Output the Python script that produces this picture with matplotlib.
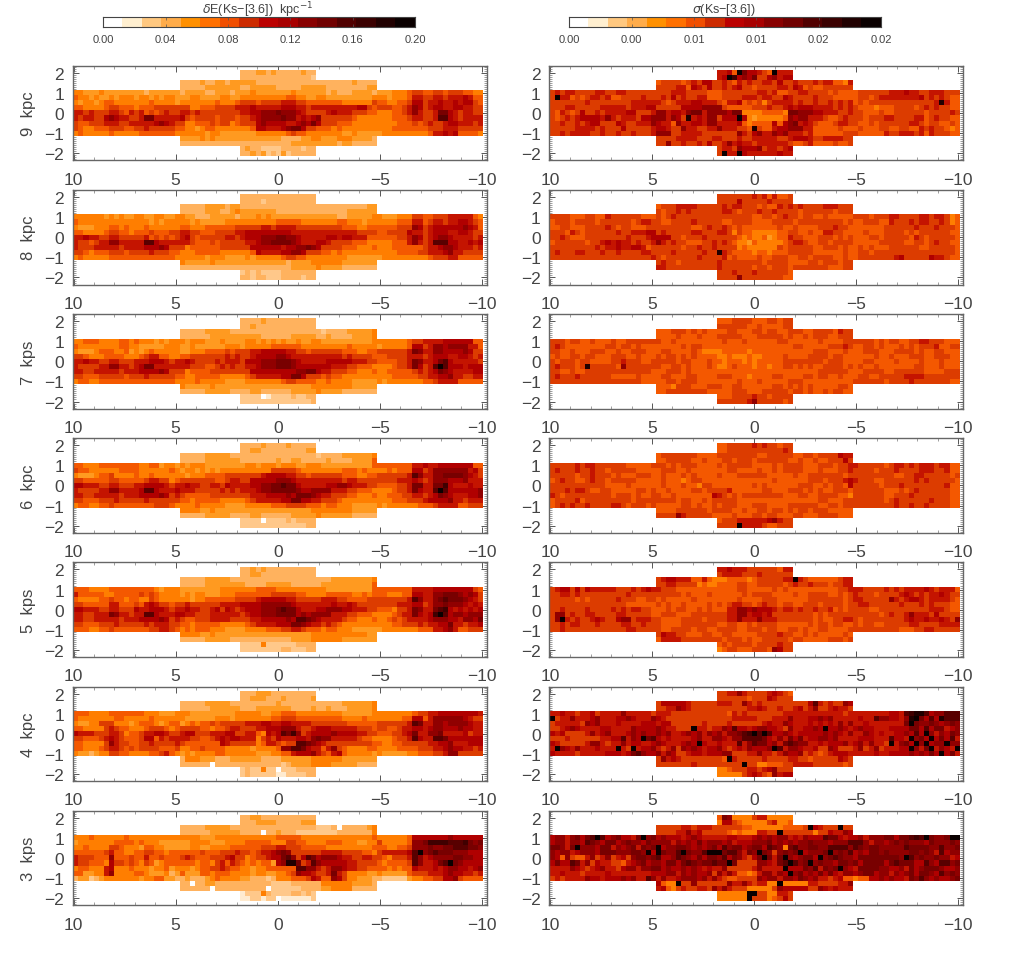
import numpy as np
import matplotlib
matplotlib.use("Agg")
import matplotlib.pyplot as plt
from matplotlib.colors import ListedColormap
from matplotlib.ticker import MultipleLocator, FixedLocator

W, H = 1035, 954
plt.rcParams['font.family'] = ['Liberation Sans', 'DejaVu Sans']
INK = '#444444'

bar_colours = ['#FFFFFF', '#FFEFD0', '#FFC880', '#FFAC4A', '#FF9000', '#FF7000', '#F04E00', '#CC2A00',
               '#BB0000', '#A80000', '#880000', '#700000', '#500000', '#3A0000', '#200000', '#0A0000']
map_colours = ['#FFFFFF', '#FFEBD0', '#FFC88A', '#FFB25E', '#FF9A20', '#FF7E00', '#F45800', '#DC3C00',
               '#C41400', '#B00000', '#900000', '#780000', '#580000', '#400000', '#200000', '#0A0000']
distance_labels = ['9  kpc', '8  kpc', '7  kps', '6  kpc', '5  kps', '4  kpc', '3  kps']
x_ticks = [10, 5, 0, -5, -10]
y_ticks = [-2, -1, 0, 1, 2]
left_cbar_ticks = ['0.00', '0.04', '0.08', '0.12', '0.16', '0.20']
right_cbar_ticks = ['0.00', '0.00', '0.01', '0.01', '0.02', '0.02']
left_range = 0.20
right_range = 0.02

# Each character is a colour level (0-f); rows run from b=+2 to b=-2.
red_9 = [
 "3334434333 33433", "3333333333 33332",
 "3333433443 4444433333 3333333333 333343333", "3333344444 4433444443 3333444443 333333344",
 "5544454444 4444344444 4344443344 4344454444 4445444444 3433344443 4445556776 6776777665 5",
 "6554544545 5545545455 4445544445 5445555555 5566554455 4444444445 5545556887 7887888986 6",
 "5455456655 5555565555 4555555565 5567776777 7888776666 6665555557 6655667997 8898898997 6",
 "6655556776 6656667777 7775566677 7788898888 8999887888 8888889976 7776678a97 8998899887 7",
 "8878777887 6878676787 7887877777 7778899aaa baaa987777 8988877766 5556678a87 78bb987887 7",
 "8788779a98 8778bb8888 8976777767 7767789aaa abaa8989a7 7777765555 5556667887 78cc987888 8",
 "7667778887 7888889a98 7755666767 7567779a99 99889a9b97 7766655555 5555666767 8778998887 8",
 "7655666777 6677877777 6655456655 5555569988 89abb97766 6565555555 5556666666 7778887777 7",
 "5655555655 5556666666 5555554554 4444445555 5567665555 5554454444 4555555555 6889896666 5",
 "4444545444 4444444444 3333445544 455544443", "3333333333 3333333333 3344444444 434433333",
 "3433222233 3323333", "3343423242 3333336",
]
red_8 = [
 "3333333333 33333", "3333233333 33333",
 "3333344443 4433333333 3333333333 333333344", "3333344433 4544444443 3333333333 333444444",
 "5555554545 4455445544 5544333444 4434445454 4444444444 4433444445 5444555776 6777888886 5",
 "6555555555 5555545455 5554544444 5555555555 6666655555 5566555455 5555666886 7887889987 6",
 "5444555665 6555655555 5665556666 6677777887 8888777777 7776665566 6666777a97 8999999a98 6",
 "6655556776 6566676667 7887766677 7788999999 9998888888 8888887777 6677779887 8999889987 7",
 "8898877887 7777867676 7897677777 8878999aaa bbaa988888 9989988866 6666778a97 89aa988887 8",
 "8776788aa8 8888cc9888 8887666767 7777889aab bbba988899 8777766655 5556668a87 8ccc998898 9",
 "8777888887 8888999a97 7756666667 7777799999 9899aaba97 7776665556 5556666667 889aa98887 8",
 "7765666777 6777787776 6555666665 5555569888 899aa97776 6565555555 5555666677 8889a88777 7",
 "5655555666 6666666666 5555554555 4444545555 5677665555 5555444444 4555555555 6777886666 6",
 "5444445444 4444444444 4344445555 554444444", "3333333333 3333333333 3344444544 443333333",
 "2323222233 3333333", "3323322233 3323335",
]
red_7 = [
 "3333433333 33333", "3343333333 33333",
 "3333344444 3333333333 3333333323 333444445", "3333334444 4444443333 3344444334 333344445",
 "5566655556 6565554545 5545554445 4444554545 4544544554 4444444445 5555556778 8889999996 6",
 "6555555556 6554444455 5445444444 5554555556 6666655555 5555655555 4555556997 8aa9aaaa88 6",
 "5444566655 6454565555 5445556666 7677788999 9988776777 7776665566 7777778ba8 8aa9999a97 7",
 "7765556666 5556788665 5667777777 8787789999 aa98888888 8887877776 6677778887 8999889987 8",
 "8898877887 7788899987 8898777787 8887999aaa bbba988888 9999988877 6666778ba8 89bc988888 7",
 "8777788aa8 8789bb8888 8887776678 7877889aaa bbba999999 9888776665 5556778b97 8cfc999899 9",
 "8877888887 8889999a97 7756666777 7777799999 9999aabb98 8777665556 5566666787 89ba988889 9",
 "7766677777 6777877777 6655666665 5555678888 899bb97776 7665555555 5556666677 8899a88778 8",
 "5665566666 6666666666 5555655555 4444555555 5677666655 6555544444 5455555556 6788886666 6",
 "5444445444 4444444444 4444445555 555544444", "3333344444 3333443333 3344444544 443333333",
 "2222012222 3223333", "2222222222 2222335",
]
red_6 = [
 "3333433334 33333", "3344333333 33344",
 "3333344444 3333333333 3333333233 334444445", "3333344444 4433333334 3344333334 333344446",
 "6655566666 6665566455 4545554444 4444554555 4555445554 4444444446 6666666889 8899999996 6",
 "7665555556 6665555556 5455454545 5555555557 7777655555 5556665655 5565666997 8aaaaaaa89 7",
 "5444566755 5565565555 5545556666 7777777899 9988776777 7776665566 7777778ca8 8aabbbba98 7",
 "7766666776 6666788775 6777777766 7887799999 aaa9888888 8887887777 7777888987 8aaa999a88 8",
 "9988877887 7788999987 8898877887 9888899aab bcbb988888 99aa988877 6666778bb8 8bbd988898 8",
 "8777788aa8 8889cc9888 9888777778 7878889aab bbbba99aaa a888776665 5556778b98 8cfc999999 a",
 "8877888887 8889999a97 8766666777 7777788899 99a9bbba98 8777665556 5566677887 89ba988899 a",
 "7766677787 7777877777 7665666665 5555678888 899bb99887 7765555555 5556667778 9999a88788 8",
 "5665566766 6666667776 5555655555 4444555556 6677776665 6655544444 5455555566 6788886677 7",
 "5555445444 4444444444 4444445555 555544444", "3333344444 3333443333 3344444544 444433333",
 "2222022223 2333333", "2222222222 2223336",
]
red_5 = [
 "3343433333 33333", "3344333333 33333",
 "3333344444 3333333333 3333333333 444444445", "3333344444 4443333444 4433333344 444444446",
 "6665555666 6666665455 5444444445 5555556666 5555555555 4444444446 6666666888 8999999997 6",
 "8666665566 6667676555 5454554445 5566666667 7777665555 6666655656 6655566998 8aabbba9a9 7",
 "6555566766 5665576555 5554556666 6677778999 9988777778 8877666677 7777778ca8 8abcbbba98 7",
 "7766666886 6676898776 7787777778 8889999aaa aaa9888888 8988987777 7777888997 8aabaaa989 8",
 "9988877887 7798899987 8898877897 9878999aaa bcbb988899 aaa9988877 6665778ba8 8bcd989898 9",
 "8877888ba8 8788cc9888 9988777888 8887899aaa bbbb9a9aaa a888776665 5556788b98 9dfc9aa9aa a",
 "8877888887 8889999a97 8766777888 8777788999 99a9ccba98 8887665556 5567678888 9aaa998aa9 b",
 "7766677787 7777878887 7665666665 5555678888 999bba9887 8765555555 5556677787 8899b88788 9",
 "6665566766 6666677887 6565666555 4444555566 6778876665 6655544444 4555555566 6889a86677 7",
 "5555445444 4444444444 4444445555 555555544", "3333344444 3333333333 3344445555 554444444",
 "2222522222 2333333", "2222222233 2223336",
]
red_4 = [
 "3334443333 33333", "3344433343 33334",
 "3333344444 3333333334 3333333333 334444445", "3333334444 4433344444 4433334334 333444445",
 "6665555666 6666555444 5554444444 4455555445 5666555555 5554444445 5555555677 8899999999 8",
 "6555555566 5555565555 5544444455 5455555556 6777666666 6665555655 5555566996 8aaaaaa987 7",
 "5445577755 5456665456 6456566767 7777888998 8998888777 7777666666 7777778cb8 8aa9aaaa98 8",
 "6655557876 6555677765 6777766566 7887778899 9aaa877899 9888887776 7766788998 9aa999a998 8",
 "9888777887 5667889987 7899777888 9977886598 9cbda78999 9a99998877 6667789b88 aab8888978 8",
 "7766678987 6667996878 8887766789 8998885787 9888998aba a888887665 5556778c98 8ccb999999 9",
 "6655557a87 7667787777 8766666669 8777775688 7677ccba98 7777777776 6556677777 8899a88899 9",
 "6655567887 6767777666 7556676666 5555545555 6aaccb9886 8a76555566 5555666677 7889a99887 8",
 "5443455776 6555566786 5454555566 5555554445 5668999a87 6896555554 5444445566 6778aa7777 7",
 "3555444333 4444443333 4444445555 554444444", "3333330333 3333333333 2344445555 444443333",
 "2322522022 2333333", "2322222112 2223336",
]
red_3 = [
 "3344333333 33333", "3334444333 33444",
 "3333344444 3333333333 3333333222 303333345", "3333334444 4433330334 3332222222 233333335",
 "5556555555 6555555555 5555544455 5555555555 6666655555 5555555556 5555556999 9999a99999 9",
 "4555555566 6656555444 4445555444 5555666665 5577665555 6665554455 7555556aab ddddcccdba b",
 "5565555776 5554665544 4445544555 5666666777 8877766666 5555555556 6655667aaa baabbcccbb a",
 "6666667866 5566776656 6666676667 7787767889 aba7777778 8887777665 7888889cfa bcbbbaaa99 9",
 "8777666a66 6766866766 6787666777 8977567789 9bca79cb9a aa98877887 7657778ca8 9aaaabbaa9 9",
 "8776665977 6765764566 6666566578 6876565664 9aeeb78ca9 9999887777 6566667ca8 89bcfba999 9",
 "5665558955 5655545564 5554566778 7665545566 6666ccaa87 8aa9887766 6656566988 8989aa9989 a",
 "6644558a55 5566544453 4644466566 6555545544 5567a99877 8b87555544 5444446777 8889a99887 8",
 "3442345555 5554556644 3343334565 5554433323 5556667986 6a97554443 3222224556 67799a7666 6",
 "3303344333 3333333322 2233333355 555544443", "3333330333 3333333022 2222333344 555533333",
 "1222532222 3323233", "1122122011 1111227",
]
sig_9 = [
 "8896fb9987 6f88897", "89fd9a9b77 9a89987",
 "6777767879 9778768787 7887977877 787886658", "7777886987 9778789776 7777887986 7667777779",
 "7878877778 8778877777 7777888777 7666777777 7887866778 8777767666 6777777888 9887788877 7",
 "7f88676788 7866777787 7787978778 8666777788 8788779877 7787776666 6776788888 8889787876 6",
 "7777777877 7777778888 8876788899 8887688967 6757888878 7787787878 6767777777 7777778e86 6",
 "7778877777 8888878889 9777779999 aaaa766666 7778778989 9988887878 7666566677 7767878776 6",
 "7687679778 7888899777 8aa8998abb 8aaaa9bb55 5566665bba aa99888778 7766676677 7777677778 7",
 "7678789999 8a87888799 aaa8a97e89 8aa7999f95 4555556a9a a888766787 7767778877 7788678776 6",
 "7787787899 7779877888 a9886a8899 8aa8888965 6666969ab8 9876667887 7667677777 7887677667 6",
 "7777788887 8777977777 899877a887 788a888776 e766899aaa 8866666766 6766677667 7668787765 6",
 "7787888877 8778778777 8aaa778888 7777777a87 9a88a9a888 7866666677 7666668778 8878687776 6",
 "7777888877 7887778778 8888778999 877888877", "77a7787787 9778a89887 8888887667 866667667",
 "7887a999a7 8878989", "7f88f98888 8898889",
]
sig_8 = [
 "7777777878 6866767", "7777977777 8777767",
 "6777888877 7778788777 6766878787 777888777", "7677878777 7778876777 8778777767 777776777",
 "7777666776 6877777766 6767877777 7777777777 6677678776 7766766666 7776777887 7778878875 6",
 "6777677776 7777776788 7766777787 7777667777 6666777767 7777777767 6677766877 7878877875 6",
 "6677666777 7876776667 7777777766 7877876766 6666676676 6667778776 6666667777 7787778777 6",
 "7776876777 7778778889 9787777788 7778875766 5555566776 6766887766 6676667777 6767777776 6",
 "7787666777 7777787778 9999776777 8777777656 5564566877 6667776767 6667767777 7687677777 6",
 "6777777677 8989887877 8a87877666 7787876554 6555556788 7667767777 6666677777 6677678776 6",
 "7777777778 7889889986 7777776778 7787777565 5555576777 7766777676 6767666777 7776677777 6",
 "7877788777 8778777788 7777877777 877e876666 5665666777 7766666676 6776777777 7777777777 6",
 "7777777777 7777777777 8767777778 7777867666 6766777667 7677776676 6777777789 7777798876 6",
 "7877677777 7787777777 7677776666 776777677", "8877777777 7787777776 7767776777 777766677",
 "7778777877 7777666", "7777a77777 7776677",
]
sig_7 = [
 "6667777666 7767777", "7777776676 6667776",
 "6667776767 6666776667 7677667776 677776877", "6666766676 6677777666 7777767667 677766777",
 "7776776676 6676677777 7766766666 6666766676 6666677666 6667666677 7777676776 6778877766 6",
 "7876666666 6776776766 6666667677 6666666666 6666666677 6666677787 6677676667 6767778667 7",
 "7766766677 7667667776 6677666676 5555666665 6666666666 6677766676 6677766677 7767667766 6",
 "6766776776 6677766766 6767767676 6665565556 5566667666 6777767766 6666766766 6777667776 6",
 "7677767766 6677877766 7777767766 6766566656 5666667777 7777677766 6677666676 6667666766 6",
 "7877767e77 7776a77777 7766776766 6765567666 5665667767 6766777767 6766766666 6677666766 6",
 "7766766777 7777777777 6667776766 6666666666 6666666666 6667777776 6677776677 7777666677 7",
 "7877787777 7766666766 6677666776 6667776665 6666776666 7767766766 6776677777 8888777777 7",
 "7777777777 7777777766 6667767776 6666666766 6766666777 6666666666 7777776777 7877777776 6",
 "6665777666 7776677666 6667767676 766666776", "6677777777 6666677766 6777776776 766767766",
 "6667777877 6777766", "7777778a77 7776777",
]
sig_6 = [
 "6677777878 7767766", "6677777777 7778777",
 "6777777766 6677777777 6677777667 767777988", "6677777667 6667767776 7777776676 676677797",
 "7777787887 7777766666 7776767776 6667677777 6666767777 6667776778 8777776788 7878887886 6",
 "7877787787 7677777666 6677766766 6666677666 6766767777 6667666778 7777677787 7778887786 6",
 "7777767787 7767666777 6676667676 6667666777 7776666676 6777777767 7777777766 7788777776 7",
 "6787766787 7677777666 6676665677 6666666666 6666766666 6777677789 8777667777 7787877777 6",
 "7777777777 7666676666 6676667665 7766666666 7676666667 7766767769 7777767778 7777777786 6",
 "7778788766 7766666776 7667666677 6777786666 6677666777 6767667776 7777776667 6787777776 6",
 "8767777777 7767776766 7766766666 6698767677 7777776667 7667777665 7777776677 7877777776 6",
 "6777786777 7777776777 7777767766 7677777666 6666666666 6667766677 7777776787 7777787776 6",
 "6787877877 7788767776 7666667767 6676777666 7776666777 7776677677 7777777787 7877877776 6",
 "6666777777 6777766766 7767767677 677766666", "7777a87777 7666676667 7677666776 667777666",
 "6777888888 9a87767", "7777f88887 6677767",
]
sig_5 = [
 "8898887777 7768877", "7888877787 7777788",
 "7899888668 6555666656 7777788f87 666666788", "7788777756 5566667766 7777767877 877767788",
 "7899797988 8887778789 8877766666 6666666776 6666767666 6666666778 8877778787 8888987888 6",
 "7788787777 7777787777 7777776766 6766666676 7777666676 6777766767 8777677778 9878788987 7",
 "7777767677 7778777667 7676666676 6666666766 6677766666 6777777767 8877777a87 8998788887 6",
 "7777777777 7777766666 6767667666 6767678877 6787767766 7776777767 7887777778 7778787776 6",
 "7787777877 7787878877 6667677667 6766688aa9 a999878878 7787786767 7776677777 7777788876 6",
 "7aa7877887 7778877777 6677766677 7777788aa8 9989777777 7767677777 7777767877 8a88879777 7",
 "7af8787789 8779aa7888 7766667777 6777788a88 8a88877777 7767667788 7677777777 8988988987 a",
 "7787887778 7777887787 7766667777 7776677667 6777766666 6767767766 7677667777 7887777888 8",
 "7787777777 7777788777 7766777767 7667777667 7767766776 7667766667 7777777776 6677887777 7",
 "7988776667 7667766666 7777877667 676666676", "6888877777 7776777676 6777776776 666677767",
 "6767777677 7787766", "5677666777 6a97766",
]
sig_4 = [
 "7788a87777 8987688", "7777776777 9877777",
 "7999998777 7788877a87 8777777777 9c87877a9", "7788a98777 7777777788 9877877897 8a7789887",
 "8898878897 8888a88888 7888777777 7777768787 7777778888 8888888878 8888888998 cdeec9aacc c",
 "f788a8889a 88899a9888 a987777777 7777778888 8777888a88 899a9a8888 8988caa998 aefb9c9ecc c",
 "7888887a9a 8889888899 9899777777 8777787777 778988a988 8989898a8a 8898888888 bfbaaba9ab a",
 "7789a98888 998888a999 9a988777f8 8788a9c998 9aa9987a88 99a9f99a98 9a99888999 9bb9c9bb89 a",
 "98977778a8 9a8889a9a9 9a9a889a9a 8a9a8aabcd fcfc99a989 9999a9a98a 88a9898899 a9c9fa8a9b a",
 "7778777777 8899c8a9fb c98988889a 88aa98aacc ccb98a8b9b 899aa9a888 8999888c99 8fab9f9b9c 8",
 "98777778aa 8788a89988 9a98889a9f 9889888c8a cbb9a8bcba a8898999a8 9a8a887f8a b9faf9aafa a",
 "8fa98a8889 888f87f899 a878a7a9a9 899a87898a 999afc8aa9 88977a9777 8a78a78889 9fa8bf8a98 f",
 "9888878888 899989bca9 9a8a977899 8999aa7778 8a8878a99a 7876789998 8888988999 9a9a9b9f9b 8",
 "7a89877777 7776f87777 7877778877 677777987", "7777777877 7777777f77 5566677888 877777767",
 "5567778878 9a77787", "5555578987 6a89977",
]
sig_3 = [
 "6ba5555788 5555577", "5997655555 7855665",
 "7777788788 8777777665 5555566667 f98777f77", "777788a897 7777656555 8877f77777 7577988a9",
 "9aa8ab9bcf c9ab998bfa b9a99989a9 8888899888 9a9a9aa898 a999cbb989 9a8aaabb9b bcdcfbaabf f",
 "9aa8aa9cba 9bb9abaa9b aaaa8a9a9b 9aaa9a8999 aaab9a9a9a abaaa9aaac cca8aa9aba baaa9baaab a",
 "bba8bfaaa9 bb8a9ab8ba bf9aabba9a 9ab9cabb9a bb9cba5bca abbaacccca cbabbaaaaa cbbbbaacaa b",
 "a9aa89aaa9 bbbaaabbaf 9fbaacfbaa cfffbcca8b afba7ababf 9aaabfabac 9a9bbabaaa abbaba8c9a a",
 "a96a7668a7 8a7897abba bc99acba9b 9bbac9ba87 9bfb8bfa9a bb9fabcbaa 9bbbbbbbba fcabaabaa8 9",
 "9b99cb8a79 8877689ab9 aa9bb9bcba bbcbbfb777 7aa98bcfca bfabaa9bba b9bbbb9bcb bb99ca9cca b",
 "8888a98789 a8879aa8aa bb9a99a9a9 8988a77777 8a8888f999 bac8babfa9 8bbbbaa99a 8b9abbba99 a",
 "8898887888 8988888888 999aa8a9a9 9a7a8a8665 68aa8a9fab 9a9b9b98aa 9abb9aa8a9 ab9bba9cab a",
 "7878888a99 8999a9a88c a8a889aaa9 a8a8766777 7a9aa8aa9b a9a8878966 56699a9a99 8baca9a99a b",
 "9655f77a77 7777a88a87 8855f55555 88777788a", "8965787788 7a8a877755 5557a99999 77a98988",
 "555555ff77 5588788", "555555f777 5679777",
]

left_panels = [red_9, red_8, red_7, red_6, red_5, red_4, red_3]
right_panels = [sig_9, sig_8, sig_7, sig_6, sig_5, sig_4, sig_3]

# Pixel-space layout
N_COLS = 81
ROW_WIDTHS = [15, 15, 39, 39] + [81] * 9 + [39, 39, 15, 15]
PANEL_TOP = 66.7
PANEL_PITCH = 124.17
PANEL_H = 94.7
LEFT_X = (72.5, 487.0)
RIGHT_X = (549.0, 963.3)


def decode(rows, vrange):
    """Turn the level strings into a masked grid of values."""
    grid = np.full((17, N_COLS), np.nan)
    step = vrange / 16
    for r, (row, width) in enumerate(zip(rows, ROW_WIDTHS)):
        s = row.replace(' ', '')
        s = (s + s[-1] * width)[:width]
        start = (N_COLS - width) // 2
        grid[r, start:start + width] = [(int(c, 16) + 0.5) * step for c in s]
    return np.ma.masked_invalid(grid)


fig = plt.figure(figsize=(W / 100, H / 100), dpi=100)
map_cmap = ListedColormap(map_colours)
bar_cmap = ListedColormap(bar_colours)
x_edges = np.linspace(10.01, -10.07, N_COLS + 1)
y_edges = np.linspace(2.13, -2.13, 18)


def add_axes_px(x0, x1, y0, y1):
    return fig.add_axes([x0 / W, 1 - y1 / H, (x1 - x0) / W, (y1 - y0) / H])


def draw_panel(px, row, rows, vrange, label=None):
    top = PANEL_TOP + row * PANEL_PITCH
    ax = add_axes_px(px[0], px[1], top, top + PANEL_H)
    ax.set_axisbelow(True)
    ax.pcolormesh(x_edges, y_edges, decode(rows, vrange), cmap=map_cmap, vmin=0, vmax=vrange,
                  shading='flat', edgecolors='none', zorder=2)
    ax.set_xlim(10.05, -10.25)
    ax.set_ylim(-2.36, 2.35)
    ax.xaxis.set_major_locator(FixedLocator(x_ticks))
    ax.xaxis.set_minor_locator(MultipleLocator(1))
    ax.yaxis.set_major_locator(FixedLocator(y_ticks))
    ax.yaxis.set_minor_locator(MultipleLocator(0.1))
    ax.set_xticklabels([str(v).replace('-', '\u2212') for v in x_ticks])
    ax.set_yticklabels([str(v).replace('-', '\u2212') for v in y_ticks])
    ax.tick_params(which='major', direction='in', top=True, right=True, length=4, width=0.7,
                   color='#555555', labelcolor=INK, labelsize=12.5)
    ax.tick_params(which='minor', direction='in', top=True, right=True, length=2, width=0.5,
                   color='#777777')
    ax.tick_params(axis='x', which='major', pad=8)
    ax.tick_params(axis='y', which='major', pad=6)
    for s in ax.spines.values():
        s.set_color('#666666')
        s.set_linewidth(1.0)
    if label:
        fig.text(28 / W, 1 - (top + PANEL_H / 2) / H, label, rotation=90, ha='center', va='center',
                 fontsize=12, color=INK)


for i in range(7):
    draw_panel(LEFT_X, i, left_panels[i], left_range, distance_labels[i])
    draw_panel(RIGHT_X, i, right_panels[i], right_range)


def draw_cbar(x0, x1, labels, vrange, title, title_x):
    ax = add_axes_px(x0, x1, 18.3, 28.3)
    ax.imshow(np.arange(16)[None, :], cmap=bar_cmap, aspect='auto', extent=[0, vrange, 0, 1],
              interpolation='nearest')
    pos = np.linspace(0, vrange, 6)
    ax.set_xticks(pos)
    ax.set_xticklabels(labels)
    ax.set_yticks([])
    ax.tick_params(axis='x', direction='in', top=True, length=2, width=0.5, color='#555555',
                   labelsize=8, labelcolor=INK, pad=5)
    for s in ax.spines.values():
        s.set_color('#444444')
        s.set_linewidth(0.8)
    fig.text(title_x / W, 1 - 10 / H, title, ha='center', va='center', fontsize=9, color=INK)


draw_cbar(103.3, 415, left_cbar_ticks, left_range,
          '$\\delta$E(Ks\u2212[3.6])  kpc$^{-1}$', 258)
draw_cbar(569.3, 881, right_cbar_ticks, right_range, '$\\sigma$(Ks\u2212[3.6])', 724)

fig.savefig('out.png', dpi=100, facecolor='white')
